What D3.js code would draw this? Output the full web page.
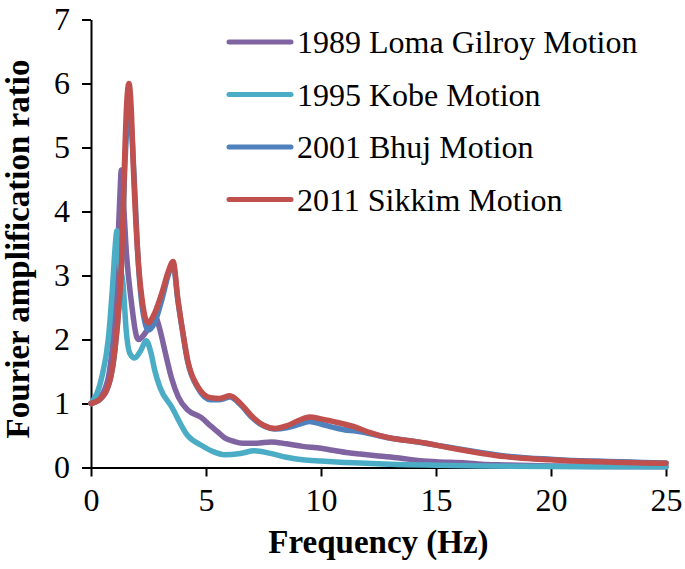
<!DOCTYPE html>
<html>
<head>
<meta charset="utf-8">
<script src="https://cdn.jsdelivr.net/npm/d3@7"></script>
<style>
  html, body { margin: 0; padding: 0; background: #fff; }
  svg { display: block; }
  text { font-family: "Liberation Serif", "Times New Roman", serif; fill: #000; }
</style>
</head>
<body>
<svg id="chart" width="685" height="569"></svg>
<script>
// ---- Data ----
const seriesNames = ["1989 Loma Gilroy Motion", "1995 Kobe Motion", "2001 Bhuj Motion", "2011 Sikkim Motion"];
const seriesColors = ["#8064A2", "#4BACC6", "#4F81BD", "#C0504D"];

const lomaFreq = [0, 0.5, 0.8, 1.0, 1.15, 1.25, 1.32, 1.42, 1.53, 1.75, 2.05, 2.45, 2.78, 3.0, 3.2, 3.5, 3.8, 4.2, 4.8, 5.2, 5.5, 5.83, 6.2, 6.6, 7.2, 7.85, 8.5, 9.2, 10, 10.5, 11.2, 11.7, 12.5, 13.4, 14.2, 15, 16.3, 17, 18, 20, 22, 25];
const lomaVals = [1.0, 1.15, 1.5, 2.2, 3.3, 4.2, 4.65, 4.1, 3.4, 2.6, 2.0, 2.15, 2.36, 2.15, 1.84, 1.4, 1.1, 0.9, 0.78, 0.65, 0.56, 0.46, 0.41, 0.38, 0.38, 0.40, 0.37, 0.33, 0.30, 0.27, 0.23, 0.21, 0.18, 0.15, 0.11, 0.09, 0.07, 0.05, 0.04, 0.025, 0.015, 0.01];

const kobeFreq = [0, 0.46, 0.75, 0.95, 1.04, 1.13, 1.24, 1.39, 1.54, 1.68, 1.9, 2.15, 2.4, 2.6, 2.77, 3.0, 3.5, 4.2, 4.83, 5.3, 5.8, 6.5, 7.1, 7.8, 8.5, 9.2, 10, 11, 11.7, 13, 15, 17, 20, 25];
const kobeVals = [1.0, 1.4, 2.0, 2.9, 3.4, 3.7, 3.2, 2.88, 2.1, 1.79, 1.71, 1.82, 1.98, 1.8, 1.52, 1.25, 0.95, 0.5, 0.34, 0.25, 0.2, 0.22, 0.26, 0.22, 0.16, 0.12, 0.1, 0.08, 0.07, 0.05, 0.035, 0.025, 0.015, 0.01];

const bhujFreq = [0, 0.4, 0.83, 1.04, 1.23, 1.33, 1.46, 1.56, 1.68, 1.78, 1.88, 2.04, 2.25, 2.5, 2.75, 3.1, 3.35, 3.57, 3.78, 4.0, 4.2, 4.65, 5.2, 5.6, 6.04, 6.5, 7.0, 7.5, 8.0, 8.5, 9.0, 9.5, 10, 10.5, 11, 11.5, 12, 13, 14, 15, 16, 17, 18, 19, 20, 21, 22, 23, 24, 25];
const bhujVals = [1.0, 1.07, 1.37, 1.84, 2.6, 3.2, 4.6, 5.3, 5.5, 5.2, 4.5, 3.3, 2.45, 2.15, 2.25, 2.65, 3.0, 3.17, 2.6, 2.08, 1.66, 1.24, 1.06, 1.06, 1.1, 0.98, 0.78, 0.65, 0.6, 0.62, 0.67, 0.72, 0.68, 0.63, 0.59, 0.57, 0.54, 0.46, 0.41, 0.35, 0.29, 0.23, 0.18, 0.15, 0.13, 0.11, 0.1, 0.09, 0.08, 0.07];

const sikkimFreq = [0, 0.4, 0.83, 1.04, 1.23, 1.33, 1.46, 1.54, 1.65, 1.75, 1.83, 2.04, 2.25, 2.48, 2.75, 3.1, 3.35, 3.57, 3.78, 4.0, 4.2, 4.65, 5.2, 5.6, 6.04, 6.5, 7.0, 7.5, 8.0, 8.5, 9.0, 9.5, 10, 10.5, 11, 11.5, 12, 13, 14, 14.6, 15, 16, 17, 18, 19, 20, 21, 22, 23, 24, 25];
const sikkimVals = [1.0, 1.07, 1.37, 1.84, 2.6, 3.2, 4.8, 5.6, 6.0, 5.6, 4.8, 3.3, 2.55, 2.26, 2.4, 2.75, 3.05, 3.22, 2.62, 2.1, 1.68, 1.26, 1.09, 1.08, 1.12, 1.0, 0.8, 0.66, 0.61, 0.65, 0.73, 0.79, 0.76, 0.72, 0.68, 0.63, 0.56, 0.46, 0.41, 0.38, 0.35, 0.28, 0.22, 0.17, 0.14, 0.12, 0.1, 0.09, 0.08, 0.07, 0.065];

const xTicks = [0, 5, 10, 15, 20, 25];
const yTicks = [0, 1, 2, 3, 4, 5, 6, 7];

// ---- Chart ----
const svg = d3.select("#chart");
const x = d3.scaleLinear().domain([0, 25]).range([91, 666]);
const y = d3.scaleLinear().domain([0, 7]).range([467.5, 19.5]);

const series = [
  { name: seriesNames[0], color: seriesColors[0], f: lomaFreq, v: lomaVals },
  { name: seriesNames[1], color: seriesColors[1], f: kobeFreq, v: kobeVals },
  { name: seriesNames[2], color: seriesColors[2], f: bhujFreq, v: bhujVals },
  { name: seriesNames[3], color: seriesColors[3], f: sikkimFreq, v: sikkimVals }
];

// axes
const xAxis = svg.append("g")
  .attr("transform", `translate(0,${y(0)})`)
  .call(d3.axisBottom(x).tickValues(xTicks).tickFormat(d3.format("d")).tickSize(9).tickSizeOuter(0).tickPadding(12));
const yAxis = svg.append("g")
  .attr("transform", `translate(${x(0)},0)`)
  .call(d3.axisLeft(y).tickValues(yTicks).tickFormat(d3.format("d")).tickSize(9).tickSizeOuter(0).tickPadding(12));
[xAxis, yAxis].forEach(g => {
  g.selectAll("path.domain").attr("stroke", "#000").attr("stroke-width", 2);
  g.selectAll(".tick line").attr("stroke", "#000").attr("stroke-width", 2);
  g.selectAll(".tick text").attr("font-family", "'Liberation Serif', serif").attr("font-size", 32).attr("fill", "#000");
});

// lines
const line = d3.line()
  .x(d => x(d[0]))
  .y(d => y(d[1]))
  .curve(d3.curveMonotoneX);

series.forEach(s => {
  const pts = s.f.map((f, i) => [f, s.v[i]]);
  svg.append("path")
    .datum(pts)
    .attr("fill", "none")
    .attr("stroke", s.color)
    .attr("stroke-width", 5.5)
    .attr("stroke-linecap", "round")
    .attr("stroke-linejoin", "round")
    .attr("d", line);
});

// axis titles
svg.append("text")
  .attr("x", (x(0) + x(25)) / 2)
  .attr("y", 553)
  .attr("text-anchor", "middle")
  .attr("font-size", 33)
  .attr("font-weight", "bold")
  .text("Frequency (Hz)");

svg.append("text")
  .attr("transform", `translate(29,249) rotate(-90)`)
  .attr("text-anchor", "middle")
  .attr("font-size", 33)
  .attr("font-weight", "bold")
  .text("Fourier amplification ratio");

// legend
const legend = svg.append("g");
series.forEach((s, i) => {
  const ly = 42 + i * 52.5;
  legend.append("line")
    .attr("x1", 229).attr("x2", 291)
    .attr("y1", ly).attr("y2", ly)
    .attr("stroke", s.color).attr("stroke-width", 5).attr("stroke-linecap", "round");
  legend.append("text")
    .attr("x", 297).attr("y", ly + 11)
    .attr("font-size", 32)
    .text(s.name);
});
</script>
</body>
</html>
